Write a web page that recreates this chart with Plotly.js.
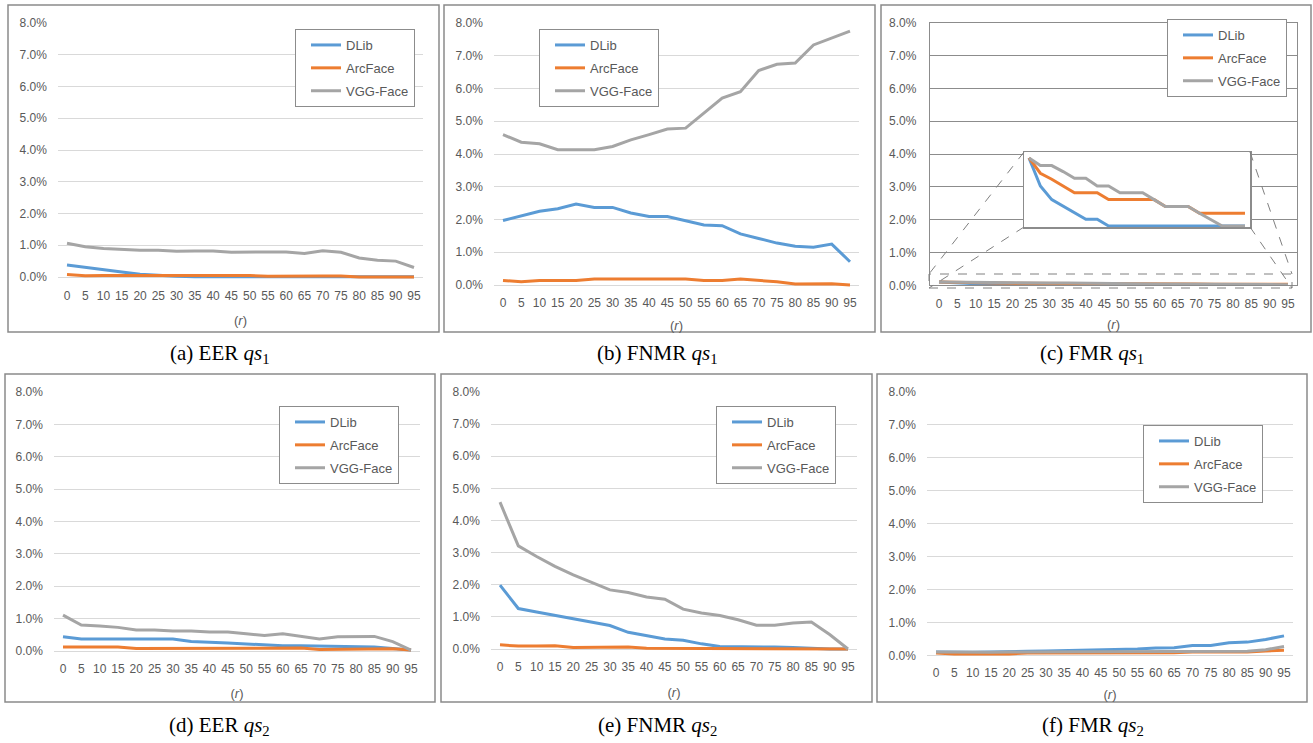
<!DOCTYPE html>
<html>
<head>
<meta charset="utf-8">
<script src="https://cdn.plot.ly/plotly-3.0.1.min.js"></script>
<style>html,body{margin:0;padding:0;background:#fff;}#chart{width:1313px;height:743px;}</style>
</head>
<body>
<div id="chart"></div>
<script>
// ---------- data (values in %) ----------
const r = [0,5,10,15,20,25,30,35,40,45,50,55,60,65,70,75,80,85,90,95];
const seriesNames = ['DLib','ArcFace','VGG-Face'];

const eerQs1Dlib    = [0.38,0.30,0.23,0.16,0.09,0.05,0.02,0.01,0.01,0.01,0.01,0.01,0.01,0.01,0.01,0.01,0.01,0.01,0.01,0.01];
const eerQs1Arc     = [0.08,0.04,0.05,0.05,0.05,0.05,0.05,0.05,0.05,0.05,0.05,0.02,0.03,0.03,0.03,0.03,0.00,0.00,0.00,0.00];
const eerQs1Vgg     = [1.06,0.95,0.90,0.87,0.84,0.84,0.81,0.82,0.82,0.78,0.78,0.79,0.79,0.74,0.83,0.78,0.60,0.53,0.50,0.30];

const fnmrQs1Dlib   = [1.97,2.10,2.25,2.33,2.47,2.37,2.37,2.20,2.09,2.09,1.97,1.83,1.81,1.56,1.42,1.28,1.18,1.15,1.25,0.71];
const fnmrQs1Arc    = [0.14,0.10,0.14,0.14,0.14,0.18,0.18,0.18,0.18,0.18,0.18,0.14,0.14,0.18,0.14,0.10,0.03,0.03,0.04,0.00];
const fnmrQs1Vgg    = [4.59,4.36,4.31,4.13,4.13,4.13,4.23,4.43,4.59,4.76,4.79,5.25,5.71,5.90,6.55,6.74,6.78,7.33,7.54,7.75];

const fmrQs1Dlib    = [0.100,0.067,0.051,0.043,0.035,0.028,0.028,0.020,0.020,0.020,0.020,0.020,0.020,0.020,0.020,0.020,0.020,0.020,0.020,0.020];
const fmrQs1Arc     = [0.100,0.082,0.075,0.067,0.059,0.059,0.059,0.051,0.051,0.051,0.051,0.051,0.043,0.043,0.043,0.035,0.035,0.035,0.035,0.035];
const fmrQs1Vgg     = [0.100,0.091,0.091,0.084,0.076,0.076,0.067,0.067,0.059,0.059,0.059,0.051,0.043,0.043,0.043,0.035,0.028,0.020,0.020,0.020];

const eerQs2Dlib    = [0.44,0.37,0.37,0.37,0.37,0.37,0.37,0.29,0.28,0.25,0.22,0.19,0.16,0.16,0.15,0.15,0.15,0.12,0.08,0.03];
const eerQs2Arc     = [0.12,0.12,0.12,0.12,0.08,0.08,0.09,0.09,0.09,0.09,0.09,0.09,0.09,0.09,0.05,0.05,0.05,0.05,0.07,0.03];
const eerQs2Vgg     = [1.11,0.80,0.77,0.73,0.65,0.65,0.62,0.62,0.59,0.59,0.53,0.48,0.53,0.45,0.37,0.44,0.44,0.45,0.29,0.03];

const fnmrQs2Dlib   = [1.99,1.26,1.15,1.04,0.93,0.83,0.73,0.52,0.41,0.31,0.27,0.16,0.08,0.08,0.06,0.06,0.05,0.02,0.00,0.00];
const fnmrQs2Arc    = [0.13,0.09,0.09,0.10,0.05,0.05,0.06,0.06,0.02,0.02,0.02,0.02,0.02,0.02,0.02,0.02,0.02,0.02,0.00,0.00];
const fnmrQs2Vgg    = [4.57,3.21,2.88,2.57,2.31,2.07,1.84,1.76,1.62,1.55,1.24,1.12,1.04,0.91,0.74,0.74,0.81,0.84,0.45,0.00];

const fmrQs2Dlib    = [0.10,0.09,0.09,0.10,0.12,0.12,0.13,0.14,0.16,0.17,0.19,0.19,0.22,0.23,0.30,0.30,0.38,0.40,0.48,0.59];
const fmrQs2Arc     = [0.07,0.04,0.04,0.04,0.04,0.07,0.07,0.07,0.07,0.07,0.07,0.07,0.07,0.08,0.10,0.10,0.10,0.10,0.13,0.15];
const fmrQs2Vgg     = [0.10,0.09,0.09,0.09,0.10,0.10,0.10,0.10,0.10,0.10,0.10,0.10,0.10,0.10,0.12,0.12,0.12,0.12,0.17,0.27];

const captions = ['(a) EER <i>qs</i><sub>1</sub>','(b) FNMR <i>qs</i><sub>1</sub>','(c) FMR <i>qs</i><sub>1</sub>',
                  '(d) EER <i>qs</i><sub>2</sub>','(e) FNMR <i>qs</i><sub>2</sub>','(f) FMR <i>qs</i><sub>2</sub>'];
const xTitle = '(<i>r</i>)';
const panelData = [
  [eerQs1Dlib, eerQs1Arc, eerQs1Vgg],
  [fnmrQs1Dlib, fnmrQs1Arc, fnmrQs1Vgg],
  [fmrQs1Dlib, fmrQs1Arc, fmrQs1Vgg],
  [eerQs2Dlib, eerQs2Arc, eerQs2Vgg],
  [fnmrQs2Dlib, fnmrQs2Arc, fnmrQs2Vgg],
  [fmrQs2Dlib, fmrQs2Arc, fmrQs2Vgg]
];

// ---------- geometry & style ----------
const W = 1313, H = 743;
const colors = ['#5B9BD5','#ED7D31','#A5A5A5'];
const txtColor = '#595959';
const FONT = 'Liberation Sans, Arial, sans-serif';
// pixel positions: [x of r=0, x of r=95, y of 8%, y of 0%]
const geo = [
  [67, 414, 23, 277],
  [503, 850, 23, 285],
  [939, 1288, 22.7, 285.3],
  [63, 411, 392, 651],
  [500, 848, 392, 649],
  [936, 1284, 391.7, 655.3]
];
const titleStandoff = [13, 11, 10, 13, 14, 10];
const tickStandoff = [8, 7, 7, 7, 7, 7];
const frames = [[8,5,439,332],[444,5,875,332],[881,5,1311,332],[5,374,435,702],[441,374,872,702],[877,374,1307,702]];
const legendPos = [[295,29],[539,29],[1167,19],[279,406],[716,406],[1143,425]];
const captionPos = [[220,354],[657,354],[1092,354],[220,726],[658,726],[1093,726]];

const traces = [];
const layout = {
  width: W, height: H,
  margin: {l:0, r:0, t:0, b:0},
  paper_bgcolor: '#fff', plot_bgcolor: '#fff',
  font: {family: FONT, color: txtColor, size: 12},
  showlegend: true,
  shapes: [], annotations: []
};

geo.forEach((g, i) => {
  const k = i + 1;
  const sfx = (k === 1 ? '' : String(k));
  const xs = (g[1] - g[0]) / 95;
  const isC = (i === 2);
  const ylo = isC ? 0 : -0.06;
  const ys = (g[3] - g[2]) / 8;
  const bottomPx = g[3] - ylo * ys;
  const xa = {
    domain: [(g[0] - 2.5*xs)/W, (g[1] + 2.5*xs)/W],
    range: [-2.5, 97.5],
    anchor: 'y' + sfx,
    tickmode: 'linear', tick0: 0, dtick: 5,
    showgrid: false, zeroline: false, ticks: '',
    ticklabelstandoff: tickStandoff[i],
    tickfont: {family: FONT, size: 12, color: txtColor},
    title: {text: xTitle, font: {family: FONT, size: 13, color: txtColor}, standoff: titleStandoff[i]},
    fixedrange: true
  };
  const ya = {
    domain: [1 - bottomPx/H, 1 - g[2]/H],
    range: [ylo, 8],
    anchor: 'x' + sfx,
    tickmode: 'linear', tick0: 0, dtick: 1,
    tickformat: '.1f', ticksuffix: '%',
    showgrid: true, gridcolor: isC ? '#8c8c8c' : '#d9d9d9', gridwidth: 1,
    zeroline: false, ticks: '',
    ticklabelstandoff: 10,
    tickfont: {family: FONT, size: 12, color: txtColor},
    fixedrange: true
  };
  if (isC) {
    Object.assign(xa, {showline: true, mirror: true, linecolor: '#8c8c8c', linewidth: 1});
    Object.assign(ya, {showline: true, mirror: true, linecolor: '#8c8c8c', linewidth: 1});
  }
  layout['xaxis' + sfx] = xa;
  layout['yaxis' + sfx] = ya;

  const legName = 'legend' + sfx;
  layout[legName] = {
    x: legendPos[i][0]/W, y: 1 - legendPos[i][1]/H,
    xanchor: 'left', yanchor: 'top',
    bgcolor: '#fff', bordercolor: '#8c8c8c', borderwidth: 1,
    font: {family: FONT, size: 13, color: txtColor},
    tracegroupgap: 3, itemwidth: 30, indentation: 10
  };

  panelData[i].forEach((vals, s) => {
    traces.push({
      type: 'scatter', mode: 'lines',
      x: r, y: vals, name: seriesNames[s],
      xaxis: 'x' + sfx, yaxis: 'y' + sfx,
      line: {color: colors[s], width: 3},
      legend: legName, legendgroup: 'p' + k + 's' + s,
      hoverinfo: 'x+y+name'
    });
  });

  const f = frames[i];
  layout.shapes.push({type: 'rect', xref: 'paper', yref: 'paper',
    x0: f[0]/W, x1: f[2]/W, y0: 1 - f[3]/H, y1: 1 - f[1]/H,
    line: {color: '#8a8a8a', width: 1.5}, fillcolor: 'rgba(0,0,0,0)', layer: 'above'});

  layout.annotations.push({xref: 'paper', yref: 'paper',
    x: captionPos[i][0]/W, y: 1 - captionPos[i][1]/H,
    xanchor: 'center', yanchor: 'middle', showarrow: false,
    text: captions[i], font: {family: 'Liberation Serif, Times New Roman, serif', size: 21, color: '#000'}});
});

// ---------- inset zoom for panel (c) ----------
const inset = {l: 1024, r: 1250, t: 152, b: 227};
layout.xaxis7 = {domain: [inset.l/W, inset.r/W], range: [-2.2, 97.2], anchor: 'y7',
  showline: true, mirror: true, linecolor: '#8c8c8c', linewidth: 1.5,
  showgrid: false, zeroline: false, showticklabels: false, ticks: '', fixedrange: true};
layout.yaxis7 = {domain: [1 - inset.b/H, 1 - inset.t/H], range: [0.0188, 0.107], anchor: 'x7',
  showline: true, mirror: true, linecolor: '#8c8c8c', linewidth: 1.5,
  showgrid: false, zeroline: false, showticklabels: false, ticks: '', fixedrange: true};
panelData[2].forEach((vals, s) => {
  traces.push({type: 'scatter', mode: 'lines', x: r, y: vals, name: seriesNames[s],
    xaxis: 'x7', yaxis: 'y7', line: {color: colors[s], width: 3}, showlegend: false});
});
// zoom indicator
const zr = {l: 929, r: 1292, t: 274, b: 288};
const dashLine = {color: '#808080', width: 1, dash: 'dash'};
layout.shapes.push({type: 'rect', xref: 'paper', yref: 'paper',
  x0: zr.l/W, x1: zr.r/W, y0: 1 - zr.b/H, y1: 1 - zr.t/H, line: dashLine, layer: 'above'});
[[inset.l, inset.t, zr.l, zr.t], [inset.l, inset.b, zr.l, zr.b],
 [inset.r, inset.t, zr.r, zr.t], [inset.r, inset.b, zr.r, zr.b]].forEach(p => {
  layout.shapes.push({type: 'line', xref: 'paper', yref: 'paper',
    x0: p[0]/W, y0: 1 - p[1]/H, x1: p[2]/W, y1: 1 - p[3]/H, line: dashLine, layer: 'above'});
});

Plotly.newPlot('chart', traces, layout, {displayModeBar: false, staticPlot: true});
</script>
</body>
</html>
